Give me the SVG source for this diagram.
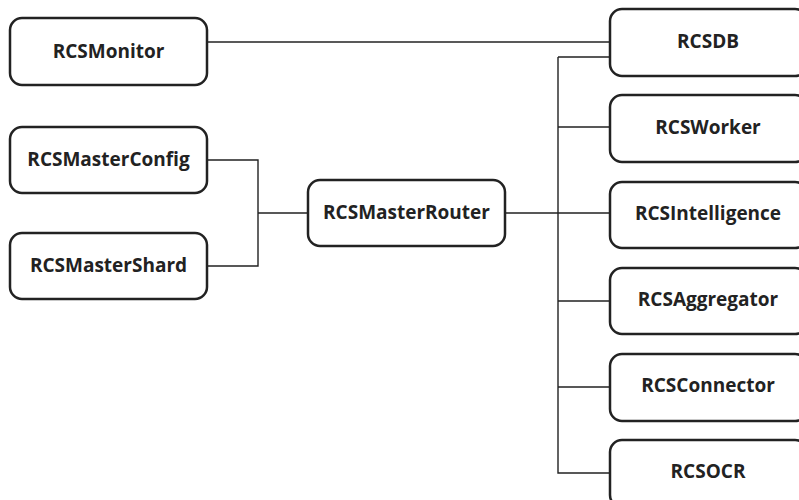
<svg xmlns="http://www.w3.org/2000/svg" width="799" height="500" viewBox="0 0 799 500">
<style>
.box{fill:#fff;stroke:#222;stroke-width:2.5}
.lbl{font-family:"Open Sans","Liberation Sans",sans-serif;font-weight:bold;font-size:19px;fill:#222;text-anchor:middle;dominant-baseline:central}
.con{fill:none;stroke:#222;stroke-width:1.4}
</style>
<rect width="799" height="500" fill="#fff"/>
<g id="connectors">
<path class="con" d="M207 42H610"/>
<path class="con" d="M207 160H258V266H207M258 213H308"/>
<path class="con" d="M505 213H558M558 57H610M558 57V473H610M558 127H610M558 213H610M558 301H610M558 387H610"/>
</g>
<g id="RCSMonitor"><rect class="box" x="10" y="18" width="197" height="67" rx="12"/><text class="lbl" x="108.5" y="51">RCSMonitor</text></g>
<g id="RCSMasterConfig"><rect class="box" x="10" y="127" width="197" height="66" rx="12"/><text class="lbl" x="108.5" y="159">RCSMasterConfig</text></g>
<g id="RCSMasterShard"><rect class="box" x="10" y="233" width="197" height="66" rx="12"/><text class="lbl" x="108.5" y="265">RCSMasterShard</text></g>
<g id="RCSMasterRouter"><rect class="box" x="308" y="180" width="197" height="66" rx="12"/><text class="lbl" x="406.5" y="212">RCSMasterRouter</text></g>
<g id="RCSDB"><rect class="box" x="610" y="9" width="197" height="67" rx="12"/><text class="lbl" x="708" y="41">RCSDB</text></g>
<g id="RCSWorker"><rect class="box" x="610" y="95" width="197" height="67" rx="12"/><text class="lbl" x="708" y="127">RCSWorker</text></g>
<g id="RCSIntelligence"><rect class="box" x="610" y="182" width="197" height="66" rx="12"/><text class="lbl" x="708" y="213">RCSIntelligence</text></g>
<g id="RCSAggregator"><rect class="box" x="610" y="268" width="197" height="66" rx="12"/><text class="lbl" x="708" y="299">RCSAggregator</text></g>
<g id="RCSConnector"><rect class="box" x="610" y="354" width="197" height="67" rx="12"/><text class="lbl" x="708" y="385">RCSConnector</text></g>
<g id="RCSOCR"><rect class="box" x="610" y="440" width="197" height="67" rx="12"/><text class="lbl" x="708" y="471">RCSOCR</text></g>
</svg>
